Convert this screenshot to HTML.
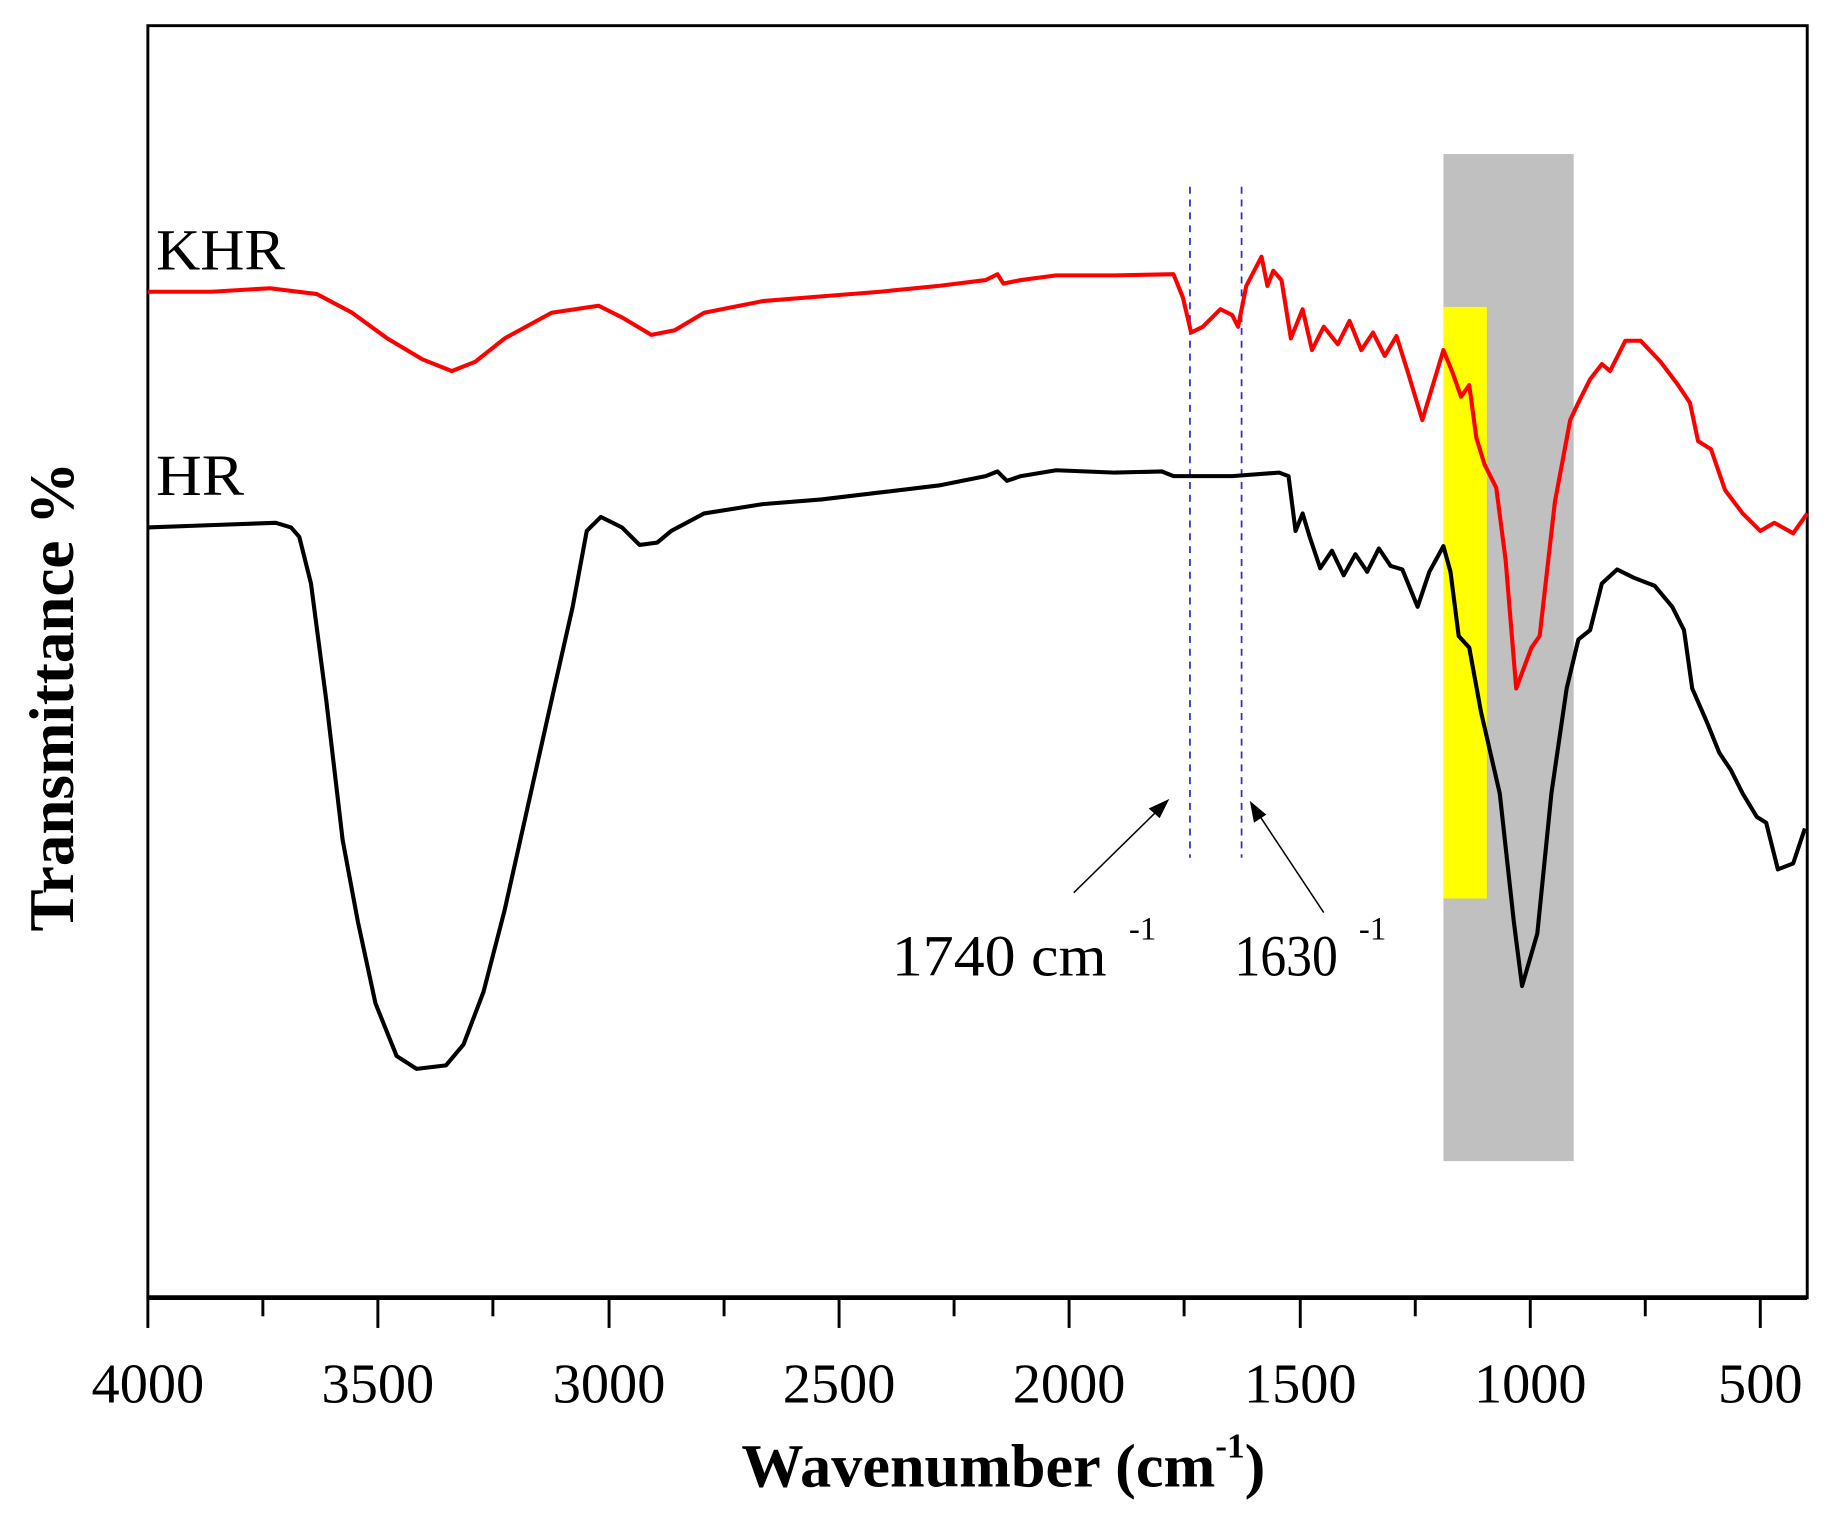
<!DOCTYPE html>
<html><head><meta charset="utf-8"><style>html,body{margin:0;padding:0;background:#fff}svg{display:block}</style></head>
<body>
<svg width="1826" height="1517" viewBox="0 0 1556 1300" preserveAspectRatio="none" xmlns="http://www.w3.org/2000/svg">
<rect x="1230" y="132" width="111" height="863" fill="#c0c0c0"/>
<rect x="1230" y="263" width="37" height="507" fill="#ffff00"/>
<rect x="126" y="22" width="1414" height="1090" fill="none" stroke="#000" stroke-width="2.5"/>
<line x1="126" y1="1112" x2="1540" y2="1112" stroke="#000" stroke-width="4"/>
<g stroke="#000" stroke-width="2.5">
<line x1="126" y1="1112" x2="126" y2="1138"/><line x1="322" y1="1112" x2="322" y2="1138"/><line x1="519" y1="1112" x2="519" y2="1138"/><line x1="715" y1="1112" x2="715" y2="1138"/><line x1="911" y1="1112" x2="911" y2="1138"/><line x1="1108" y1="1112" x2="1108" y2="1138"/><line x1="1304" y1="1112" x2="1304" y2="1138"/><line x1="1500" y1="1112" x2="1500" y2="1138"/>
<line x1="224" y1="1112" x2="224" y2="1128"/><line x1="420" y1="1112" x2="420" y2="1128"/><line x1="617" y1="1112" x2="617" y2="1128"/><line x1="813" y1="1112" x2="813" y2="1128"/><line x1="1009" y1="1112" x2="1009" y2="1128"/><line x1="1206" y1="1112" x2="1206" y2="1128"/><line x1="1402" y1="1112" x2="1402" y2="1128"/>
</g>
<g font-family="Liberation Serif, serif" font-size="48" text-anchor="middle" fill="#000">
<text x="126" y="1202">4000</text><text x="322" y="1202">3500</text><text x="519" y="1202">3000</text><text x="715" y="1202">2500</text><text x="911" y="1202">2000</text><text x="1108" y="1202">1500</text><text x="1304" y="1202">1000</text><text x="1500" y="1202">500</text>
</g>
<text x="855" y="1274" font-family="Liberation Serif, serif" font-size="53" font-weight="bold" text-anchor="middle">Wavenumber (cm<tspan font-size="30" dy="-25">-1</tspan><tspan dy="25">)</tspan></text>
<text transform="translate(62,597) rotate(-90)" font-family="Liberation Serif, serif" font-size="54" font-weight="bold" text-anchor="middle">Transmittance %</text>
<text x="133" y="231" font-family="Liberation Serif, serif" font-size="50" textLength="110" lengthAdjust="spacingAndGlyphs">KHR</text>
<text x="133" y="424" font-family="Liberation Serif, serif" font-size="50" textLength="75" lengthAdjust="spacingAndGlyphs">HR</text>
<g stroke="#3030c0" stroke-width="1.5" stroke-dasharray="6,5">
<line x1="1014" y1="160" x2="1014" y2="735"/><line x1="1058" y1="160" x2="1058" y2="735"/>
</g>
<g stroke="#000" stroke-width="1.3" fill="#000">
<line x1="915" y1="765" x2="990" y2="691"/><polygon points="995,686 980,693 988,700"/>
<line x1="1128" y1="782" x2="1070" y2="694"/><polygon points="1066,688 1069,704 1078,698"/>
</g>
<text x="760" y="836" font-family="Liberation Serif, serif" font-size="50" textLength="183" lengthAdjust="spacingAndGlyphs">1740 cm</text>
<text x="962" y="805" font-family="Liberation Serif, serif" font-size="28">-1</text>
<text x="1052" y="836" font-family="Liberation Serif, serif" font-size="50" textLength="88" lengthAdjust="spacingAndGlyphs">1630</text>
<text x="1158" y="805" font-family="Liberation Serif, serif" font-size="28">-1</text>
<polyline fill="none" stroke="#ff0000" stroke-width="3.5" stroke-linejoin="round" points="126,250 180,250 230,247 270,252 300,268 330,290 360,308 385,318 405,310 430,290 470,268 510,262 530,272 555,287 575,283 600,268 650,258 700,254 750,250 800,245 840,240 850,235 855,243 870,240 900,236 950,236 1000,235 1008,255 1015,285 1025,280 1040,265 1050,270 1055,280 1062,245 1075,220 1080,245 1085,232 1092,240 1100,290 1110,265 1118,300 1128,280 1140,295 1150,275 1160,300 1170,285 1180,305 1190,288 1200,320 1212,360 1230,300 1238,320 1245,340 1252,330 1258,375 1265,398 1275,418 1283,480 1292,590 1305,555 1312,545 1325,430 1338,360 1345,345 1355,325 1365,312 1372,318 1385,292 1398,292 1415,310 1430,330 1440,345 1447,378 1458,385 1470,420 1485,440 1500,455 1512,448 1528,457 1540,440"/>
<polyline fill="none" stroke="#000" stroke-width="3.5" stroke-linejoin="round" points="126,452 180,450 235,448 248,452 255,460 265,500 278,600 292,720 305,790 320,860 338,905 355,916 380,913 395,895 412,850 430,780 450,690 470,600 488,520 500,455 512,443 530,452 545,467 560,465 572,455 600,440 650,432 700,428 750,422 800,416 840,408 850,404 858,412 870,408 900,403 950,405 990,404 1000,408 1050,408 1090,405 1098,408 1104,455 1110,440 1116,460 1125,487 1135,472 1145,493 1155,475 1165,490 1175,470 1185,485 1195,488 1208,520 1218,490 1230,468 1236,490 1243,545 1252,555 1262,610 1278,680 1290,790 1297,845 1310,800 1322,680 1335,590 1345,548 1355,540 1365,500 1378,488 1392,495 1410,502 1425,520 1435,540 1442,590 1455,620 1465,645 1475,660 1485,680 1497,700 1505,705 1515,745 1528,740 1538,710"/>
</svg>
</body></html>
